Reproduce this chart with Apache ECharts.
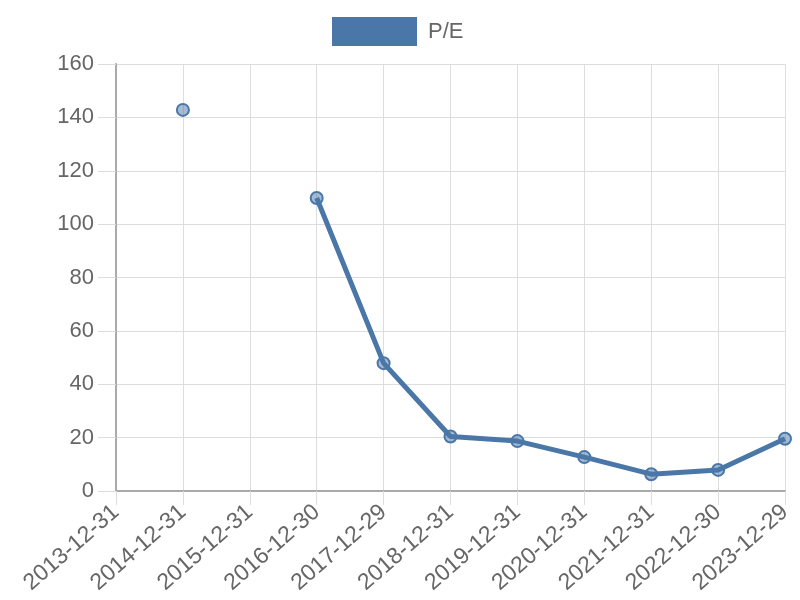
<!DOCTYPE html>
<html>
<head>
<meta charset="utf-8">
<script src="https://cdn.jsdelivr.net/npm/echarts@6/dist/echarts.min.js"></script>
<style>
  html, body { margin: 0; padding: 0; background: #fff; }
  #main { width: 800px; height: 600px; }
</style>
</head>
<body>
<div id="main"></div>
<script>
// x axis dates
var dates = ['2013-12-31', '2014-12-31', '2015-12-31', '2016-12-30', '2017-12-29',
  '2018-12-31', '2019-12-31', '2020-12-31', '2021-12-31', '2022-12-30', '2023-12-29'];
// P/E values (null = no data)
var peValues = [null, 142.8, null, 109.8, 47.9, 20.4, 18.7, 12.7, 6.3, 7.9, 19.6];
var seriesName = 'P/E';

var lineColor = '#4a77a8';
var chart = echarts.init(document.getElementById('main'));
chart.setOption({
  animation: false,
  textStyle: { fontFamily: 'Liberation Sans, Arial, sans-serif' },
  legend: {
    top: 17,
    left: 332,
    padding: 0,
    icon: 'rect',
    itemWidth: 85,
    itemHeight: 29,
    itemStyle: { color: lineColor, borderWidth: 0 },
    textStyle: { fontSize: 22, color: '#666', padding: [0, 0, 0, 6] },
    data: [seriesName]
  },
  grid: { left: 116, right: 15, top: 64, bottom: 109 },
  xAxis: {
    type: 'category',
    boundaryGap: false,
    data: dates,
    axisLine: { lineStyle: { color: '#aaa', width: 2 } },
    axisTick: { show: true, length: 14, lineStyle: { color: '#ddd' } },
    splitLine: { show: true, lineStyle: { color: '#ddd' } },
    axisLabel: { rotate: 41, fontSize: 23, color: '#666', margin: 18, interval: 0 }
  },
  yAxis: {
    type: 'value',
    min: 0,
    max: 160,
    interval: 20,
    axisLine: { show: true, lineStyle: { color: '#aaa', width: 2 } },
    axisTick: { show: true, length: 18, lineStyle: { color: '#ddd' } },
    splitLine: { show: true, lineStyle: { color: '#ddd' } },
    axisLabel: { fontSize: 22, color: '#666', margin: 22 }
  },
  series: [{
    name: seriesName,
    type: 'line',
    data: peValues,
    connectNulls: false,
    showSymbol: true,
    symbol: 'circle',
    symbolSize: 12,
    lineStyle: { color: lineColor, width: 5 },
    itemStyle: { color: 'rgba(74,119,168,0.5)', borderColor: lineColor, borderWidth: 2 }
  }]
});
</script>
</body>
</html>
